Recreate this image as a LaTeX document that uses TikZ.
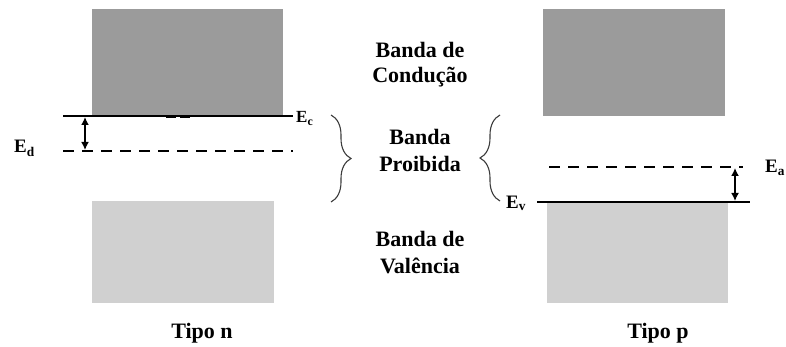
\documentclass[tikz,border=0pt]{standalone}
\usepackage{fontspec}
\setmainfont{Liberation Serif}
\usetikzlibrary{decorations.pathreplacing,arrows.meta}
\definecolor{banddark}{RGB}{155,155,155}
\definecolor{bandlight}{RGB}{208,208,208}
\definecolor{bracegrey}{RGB}{60,60,60}
\begin{document}
\begin{tikzpicture}[x=1pt,y=-1pt,
  condband/.style={fill=banddark},
  valband/.style={fill=bandlight},
  levelline/.style={line width=2pt,black},
  impline/.style={line width=2.2pt,black,dash pattern=on 11pt off 8pt},
  gaparrow/.style={line width=1.6pt,{Latex[length=8pt,width=8pt]}-{Latex[length=8pt,width=8pt]}},
  gapbrace/.style={draw=bracegrey,line width=1.1pt,decorate,decoration={brace,amplitude=20pt}},
  midtext/.style={font=\fontsize{22}{26}\selectfont\bfseries,inner sep=0pt,anchor=base},
  elabel/.style={font=\fontsize{19}{22}\selectfont\bfseries,inner sep=0pt,anchor=base west},
  elabelsmall/.style={font=\fontsize{17}{20}\selectfont\bfseries,inner sep=0pt,anchor=base west}]
\useasboundingbox (0,0) rectangle (786,347);
\fill[white] (0,0) rectangle (786,347);
% bands, tipo n
\fill[condband] (92,9) rectangle (283,116);
\fill[valband] (92,201) rectangle (274,303);
% bands, tipo p
\fill[condband] (543,9) rectangle (725,116);
\fill[valband] (547,202) rectangle (728,303);
% levels, tipo n
\coordinate (ecl) at (63,116);
\coordinate (ecr) at (293,116);
\coordinate (edl) at (63,151);
\coordinate (edr) at (293,151);
\draw[levelline] (ecl) -- (ecr);
\draw[line width=2pt,black] (166,117.5) -- (176,117.5) (180,117.5) -- (190,117.5);
\draw[impline] (edl) -- (edr);
\coordinate (na1) at (85,117);
\coordinate (na2) at (85,150);
\draw[gaparrow] (na1) -- (na2);
% levels, tipo p
\coordinate (evl) at (537,202);
\coordinate (evr) at (750,202);
\coordinate (eal) at (549,167);
\coordinate (ear) at (743,167);
\draw[levelline] (evl) -- (evr);
\draw[impline] (eal) -- (ear);
\coordinate (pa1) at (735,168);
\coordinate (pa2) at (735,201);
\draw[gaparrow] (pa1) -- (pa2);
% braces
\coordinate (lb1) at (331,115);
\coordinate (lb2) at (331,202);
\coordinate (rb1) at (500,201);
\coordinate (rb2) at (500,115);
\draw[gapbrace] (lb1) -- (lb2);
\draw[gapbrace] (rb1) -- (rb2);
% energy labels
\node[elabelsmall] (ec) at (296,123) {E\textsubscript{c}};
\node[elabel] (ed) at (14,153) {E\textsubscript{d}};
\node[elabel] (ev) at (506,208) {E\textsubscript{v}};
\node[elabel] (ea) at (765,173) {E\textsubscript{a}};
% middle texts
\node[midtext] (c1) at (420,58) {Banda de};
\node[midtext] (c2) at (420,83) {Condução};
\node[midtext] (p1) at (420,145) {Banda};
\node[midtext] (p2) at (420,172) {Proibida};
\node[midtext] (v1) at (420,247) {Banda de};
\node[midtext] (v2) at (420,273) {Valência};
% bottom labels
\node[midtext] (tn) at (202,338) {Tipo n};
\node[midtext] (tp) at (658,338) {Tipo p};
\end{tikzpicture}
\end{document}
